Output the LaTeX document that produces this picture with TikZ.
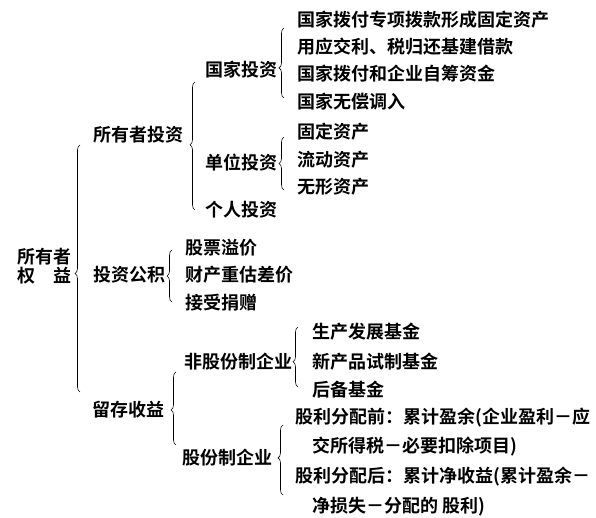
\documentclass[tikz,border=0pt]{standalone}
\usepackage{fontspec}
\newfontfamily\cjk{Noto Sans CJK SC}[BoldFont={Noto Sans CJK SC Bold}]
\usetikzlibrary{decorations.pathreplacing}
\begin{document}
\begin{tikzpicture}[x=1pt,y=-1pt,
  lbl/.style={anchor=west,inner sep=0pt,font=\cjk\bfseries\fontsize{18}{19}\selectfont},
  br/.style={decorate,decoration={brace,amplitude=5pt,aspect=#1},line width=0.6pt},
  br/.default=0.5]
\useasboundingbox (0,0) rectangle (596,518);
% root
\node[lbl] (r1) at (17,257) {所有者};
\node[lbl] (r2) at (17,276) {权\hspace{18pt}益};
% level 1
\node[lbl] (a1) at (93,135) {所有者投资};
\node[lbl] (a2) at (93,275) {投资公积};
\node[lbl] (a3) at (92,410) {留存收益};
% level 2
\node[lbl] (b1) at (205,70) {国家投资};
\node[lbl] (b2) at (205,163) {单位投资};
\node[lbl] (b3) at (205,210) {个人投资};
\node[lbl] (e1) at (184,362) {非股份制企业};
\node[lbl] (e2) at (182,458) {股份制企业};
% leaves
\node[lbl] (c1) at (297,20) {国家拨付专项拨款形成固定资产};
\node[lbl] (c2) at (297,47) {用应交利、税归还基建借款};
\node[lbl] (c3) at (297,74) {国家拨付和企业自筹资金};
\node[lbl] (c4) at (297,102) {国家无偿调入};
\node[lbl] (c5) at (297,132) {固定资产};
\node[lbl] (c6) at (297,160) {流动资产};
\node[lbl] (c7) at (297,187) {无形资产};
\node[lbl] (d1) at (185,248) {股票溢价};
\node[lbl] (d2) at (185,275) {财产重估差价};
\node[lbl] (d3) at (185,303) {接受捐赠};
\node[lbl] (f1) at (312,332) {生产发展基金};
\node[lbl] (f2) at (312,362) {新产品试制基金};
\node[lbl] (f3) at (312,390) {后备基金};
\node[lbl] (g1) at (295,418) {股利分配前：累计盈余(企业盈利－应};
\node[lbl] (g2) at (312,447) {交所得税－必要扣除项目)};
\node[lbl] (g3) at (295,477) {股利分配后：累计净收益(累计盈余－};
\node[lbl] (g4) at (312,507) {净损失－分配的 股利)};
% braces (drawn bottom to top so the tip points left)
\coordinate (k1b) at (80,392);  \coordinate (k1t) at (80,145);
\coordinate (k2b) at (195,210); \coordinate (k2t) at (195,82);
\coordinate (k3b) at (284,98);  \coordinate (k3t) at (284,28);
\coordinate (k4b) at (284,190); \coordinate (k4t) at (284,137);
\coordinate (k5b) at (172,302); \coordinate (k5t) at (172,250);
\coordinate (k6b) at (176,445); \coordinate (k6t) at (176,372);
\coordinate (k7b) at (298,387); \coordinate (k7t) at (298,327);
\coordinate (k8b) at (283,495); \coordinate (k8t) at (283,425);
\draw[br=0.48] (k1b) -- (k1t);
\draw[br=0.51] (k2b) -- (k2t);
\draw[br=0.43] (k3b) -- (k3t);
\draw[br=0.5] (k4b) -- (k4t);
\draw[br=0.5] (k5b) -- (k5t);
\draw[br=0.48] (k6b) -- (k6t);
\draw[br=0.42] (k7b) -- (k7t);
\draw[br=0.53] (k8b) -- (k8t);
\end{tikzpicture}
\end{document}
